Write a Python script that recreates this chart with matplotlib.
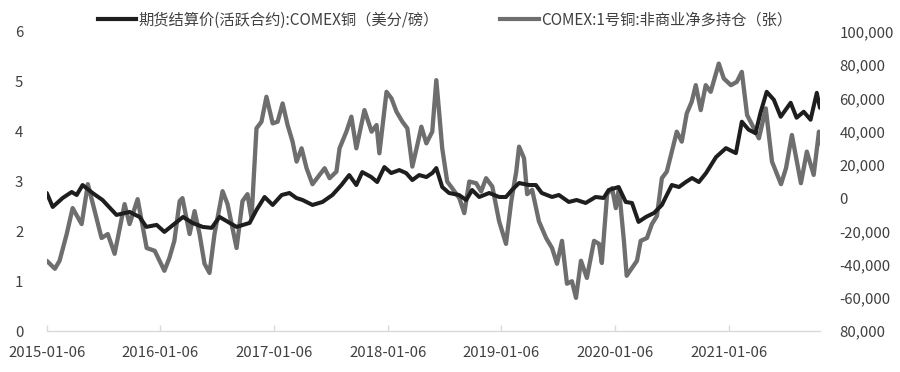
import matplotlib
matplotlib.use("Agg")
import matplotlib.pyplot as plt
import pandas as pd
from matplotlib.lines import Line2D

plt.rcParams['font.family'] = ['Noto Sans CJK SC', 'DejaVu Sans']

# ---- data ----
price_dates = [
    "2015-01-06", "2015-01-25", "2015-02-26", "2015-03-27", "2015-04-12", "2015-05-01",
    "2015-06-02", "2015-07-04", "2015-08-18", "2015-09-29", "2015-10-31", "2015-11-22",
    "2015-12-25", "2016-01-19", "2016-02-04", "2016-03-19", "2016-04-18", "2016-05-21",
    "2016-06-19", "2016-07-14", "2016-09-07", "2016-10-19", "2016-11-10", "2016-12-06",
    "2017-01-01", "2017-01-30", "2017-02-24", "2017-03-18", "2017-04-07", "2017-05-09",
    "2017-06-10", "2017-07-12", "2017-08-10", "2017-09-04", "2017-09-27", "2017-10-16",
    "2017-11-14", "2017-12-03", "2017-12-26", "2018-01-17", "2018-02-12", "2018-03-06",
    "2018-03-26", "2018-04-17", "2018-05-10", "2018-05-29", "2018-06-11", "2018-06-30",
    "2018-07-22", "2018-08-23", "2018-09-15", "2018-10-04", "2018-10-27", "2018-11-28",
    "2018-12-30", "2019-01-21", "2019-02-09", "2019-03-04", "2019-04-05", "2019-04-27",
    "2019-05-16", "2019-06-18", "2019-07-10", "2019-08-11", "2019-09-05", "2019-10-04",
    "2019-11-05", "2019-12-01", "2019-12-17", "2020-01-18", "2020-02-10", "2020-03-01",
    "2020-03-22", "2020-04-15", "2020-05-11", "2020-06-05", "2020-07-07", "2020-07-30",
    "2020-08-21", "2020-09-10", "2020-10-02", "2020-10-25", "2020-11-26", "2020-12-28",
    "2021-01-29", "2021-02-17", "2021-03-11", "2021-04-02", "2021-04-18", "2021-05-08",
    "2021-05-31", "2021-06-22", "2021-07-24", "2021-08-12", "2021-09-04", "2021-09-26",
    "2021-10-16", "2021-10-26",
]
price_values = [
    2.77, 2.49, 2.67, 2.79, 2.73, 2.93,
    2.77, 2.63, 2.33, 2.39, 2.29, 2.09,
    2.13, 1.99, 2.07, 2.29, 2.17, 2.09,
    2.07, 2.29, 2.09, 2.17, 2.43, 2.69,
    2.53, 2.73, 2.77, 2.67, 2.63, 2.53,
    2.59, 2.73, 2.93, 3.13, 2.93, 3.19,
    3.09, 2.99, 3.29, 3.17, 3.23, 3.17,
    3.03, 3.13, 3.09, 3.17, 3.27, 2.89,
    2.77, 2.73, 2.63, 2.83, 2.69, 2.77,
    2.69, 2.69, 2.83, 2.97, 2.93, 2.93,
    2.77, 2.69, 2.73, 2.59, 2.63, 2.57,
    2.69, 2.67, 2.83, 2.89, 2.59, 2.57,
    2.19, 2.29, 2.37, 2.53, 2.93, 2.89,
    2.99, 3.07, 2.99, 3.17, 3.49, 3.67,
    3.57, 4.20, 4.04, 3.97, 4.38, 4.80,
    4.64, 4.30, 4.58, 4.28, 4.40, 4.24,
    4.78, 4.48,
]

pos_dates = [
    "2015-01-06", "2015-02-01", "2015-02-16", "2015-03-11", "2015-03-30", "2015-04-28",
    "2015-05-18", "2015-06-09", "2015-07-01", "2015-07-21", "2015-08-12", "2015-09-13",
    "2015-09-29", "2015-10-25", "2015-11-23", "2015-12-19", "2016-01-19", "2016-02-04",
    "2016-02-20", "2016-03-08", "2016-03-17", "2016-04-09", "2016-04-25", "2016-05-11",
    "2016-05-27", "2016-06-12", "2016-06-28", "2016-07-24", "2016-08-09", "2016-09-07",
    "2016-09-26", "2016-10-12", "2016-10-25", "2016-11-10", "2016-11-26", "2016-12-12",
    "2017-01-01", "2017-01-17", "2017-02-02", "2017-02-18", "2017-03-06", "2017-03-19",
    "2017-04-04", "2017-04-20", "2017-05-09", "2017-06-01", "2017-06-17", "2017-07-03",
    "2017-07-25", "2017-08-04", "2017-08-26", "2017-09-11", "2017-09-27", "2017-10-23",
    "2017-11-15", "2017-12-01", "2017-12-10", "2018-01-02", "2018-01-18", "2018-02-03",
    "2018-02-22", "2018-03-10", "2018-03-26", "2018-04-11", "2018-04-24", "2018-05-10",
    "2018-05-29", "2018-06-11", "2018-06-20", "2018-06-30", "2018-07-16", "2018-08-01",
    "2018-08-24", "2018-09-09", "2018-09-25", "2018-10-17", "2018-11-02", "2018-11-18",
    "2018-12-08", "2018-12-30", "2019-01-21", "2019-02-07", "2019-02-23", "2019-03-04",
    "2019-03-20", "2019-03-30", "2019-04-15", "2019-05-07", "2019-05-30", "2019-06-18",
    "2019-07-04", "2019-07-20", "2019-08-05", "2019-08-21", "2019-09-03", "2019-09-19",
    "2019-10-08", "2019-10-31", "2019-11-16", "2019-11-25", "2019-12-12", "2019-12-28",
    "2020-01-09", "2020-01-19", "2020-02-04", "2020-02-13", "2020-03-01", "2020-03-17",
    "2020-03-29", "2020-04-18", "2020-05-04", "2020-05-20", "2020-06-05", "2020-06-21",
    "2020-07-07", "2020-07-23", "2020-08-08", "2020-08-24", "2020-09-09", "2020-09-22",
    "2020-10-08", "2020-10-24", "2020-11-09", "2020-12-05", "2020-12-21", "2021-01-13",
    "2021-02-01", "2021-02-17", "2021-03-06", "2021-03-28", "2021-04-13", "2021-05-05",
    "2021-05-25", "2021-06-23", "2021-07-09", "2021-07-28", "2021-08-26", "2021-09-14",
    "2021-10-06", "2021-10-23", "2021-10-26",
]
pos_values = [
    -37700, -42500, -37700, -21600, -6000, -15600,
    8400, -7800, -24000, -21600, -33500, -3600,
    -15600, -600, -30000, -31700, -43700, -36000,
    -25700, -1800, 0, -21600, -7800, -21600,
    -39500, -45000, -21600, 4200, -3600, -30000,
    -1800, 2400, -12000, 42000, 46000, 61000,
    45000, 46000, 57000, 44000, 34000, 22000,
    30000, 18000, 8400, 14000, 18000, 12000,
    16000, 30000, 40000, 49000, 30000, 53000,
    40000, 44000, 27000, 64000, 60000, 52000,
    46000, 42000, 19000, 32000, 43000, 33000,
    40000, 71000, 52000, 30000, 10000, 6000,
    0, -9000, 10000, 9000, 4000, 12000,
    7000, -14000, -27500, -1800, 16000, 31000,
    24000, 2400, 5000, -14000, -24000, -30000,
    -39500, -25700, -51500, -50000, -60000, -37700,
    -48000, -25700, -27500, -39000, 2400, 6000,
    -6000, 6000, -25700, -46700, -42000, -37700,
    -25700, -24000, -15600, -10800, 12000, 16000,
    28000, 40000, 34000, 51000, 58000, 68000,
    53000, 68000, 64000, 81000, 72000, 68000,
    70000, 76000, 50000, 42000, 36000, 54000,
    22000, 8400, 18000, 38000, 9000, 28000,
    14000, 40000, 33000,
]

series_names = ["期货结算价(活跃合约):COMEX铜（美分/磅）", "COMEX:1号铜:非商业净多持仓（张）"]
x_tick_labels = ["2015-01-06", "2016-01-06", "2017-01-06", "2018-01-06",
                 "2019-01-06", "2020-01-06", "2021-01-06"]
left_ticks = [0, 1, 2, 3, 4, 5, 6]
right_ticks = [-80000, -60000, -40000, -20000, 0, 20000, 40000, 60000, 80000, 100000]
right_tick_labels = ["80,000", "-60,000", "-40,000", "-20,000", "0", "20,000",
                     "40,000", "60,000", "80,000", "100,000"]

# ---- drawing ----
pd_price = pd.to_datetime(price_dates)
pd_pos = pd.to_datetime(pos_dates)
text_color = "#404040"
c_price = "#1e1e1e"
c_pos = "#6e6e6e"

fig = plt.figure(figsize=(9.0, 3.72), dpi=100)
ax = fig.add_axes([0.052, 0.110, 0.859, 0.804])
ax2 = ax.twinx()

ax2.plot(pd_pos, pos_values, color=c_pos, lw=3.1, solid_joinstyle="round",
         solid_capstyle="round", zorder=2)
ax.plot(pd_price, price_values, color=c_price, lw=2.9, solid_joinstyle="round",
        solid_capstyle="round", zorder=3)
ax.set_zorder(ax2.get_zorder() + 1)
ax.patch.set_visible(False)

ax.set_xlim(pd.Timestamp("2015-01-06"), pd.Timestamp("2021-10-26"))
ax.set_ylim(0, 6)
ax2.set_ylim(-80000, 100000)

ax.set_yticks(left_ticks)
ax.set_yticklabels([str(t) for t in left_ticks])
ax2.set_yticks(right_ticks)
ax2.set_yticklabels(right_tick_labels)

ax.set_xticks(pd.to_datetime(x_tick_labels))
ax.set_xticklabels(x_tick_labels)

for a in (ax, ax2):
    for s in ("top", "left", "right", "bottom"):
        a.spines[s].set_visible(False)
ax.spines["bottom"].set_visible(True)
ax.spines["bottom"].set_color("#d9d9d9")
ax.spines["bottom"].set_linewidth(1.0)

ax.tick_params(axis="x", direction="in", length=4, width=1.0, color="#d9d9d9",
               labelsize=10.8, labelcolor=text_color, pad=11)
ax.tick_params(axis="y", length=0, labelsize=10.8, labelcolor=text_color, pad=17)
ax2.tick_params(axis="y", length=0, labelsize=10.8, labelcolor=text_color, pad=14)

handles = [Line2D([], [], color=c_price, lw=3.0), Line2D([], [], color=c_pos, lw=3.0)]
fig.legend(handles, series_names, loc="upper left", bbox_to_anchor=(0.1, 0.99),
           borderpad=0, ncol=2, frameon=False, fontsize=11, labelcolor=text_color,
           handlelength=2.5, handletextpad=0.2, columnspacing=4.0)

fig.savefig("out.png", dpi=100)
